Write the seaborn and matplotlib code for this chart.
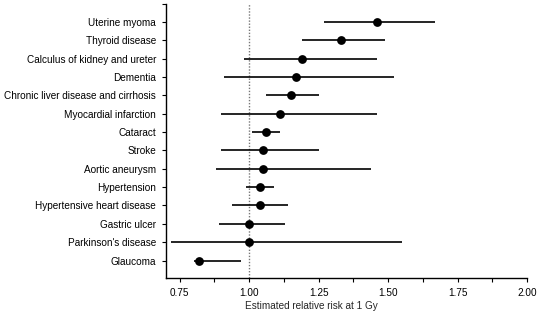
import matplotlib
matplotlib.use("Agg")
import matplotlib.pyplot as plt
import seaborn as sns
import pandas as pd
from matplotlib.ticker import MultipleLocator

conditions = ["Uterine myoma", "Thyroid disease", "Calculus of kidney and ureter", "Dementia",
              "Chronic liver disease and cirrhosis", "Myocardial infarction", "Cataract", "Stroke",
              "Aortic aneurysm", "Hypertension", "Hypertensive heart disease", "Gastric ulcer",
              "Parkinson's disease", "Glaucoma"]
rr = [1.46, 1.33, 1.19, 1.17, 1.15, 1.11, 1.06, 1.05, 1.05, 1.04, 1.04, 1.00, 1.00, 0.82]
lo = [1.27, 1.19, 0.98, 0.91, 1.06, 0.90, 1.01, 0.90, 0.88, 0.99, 0.94, 0.89, 0.72, 0.80]
hi = [1.67, 1.49, 1.46, 1.52, 1.25, 1.46, 1.11, 1.25, 1.44, 1.09, 1.14, 1.13, 1.55, 0.97]
xticks = [0.75, 1.00, 1.25, 1.50, 1.75, 2.00]

df = pd.DataFrame({"cond": conditions, "rr": rr, "lo": lo, "hi": hi})
df["pos"] = range(len(df))

sns.set_style("ticks")
plt.rcParams["font.family"] = ["Liberation Sans", "DejaVu Sans"]

fig = plt.figure(figsize=(5.4, 3.24), dpi=100)
ax = fig.add_axes([0.307, 0.142, 0.669, 0.847])

ax.axvline(1.0, color="#777777", lw=1.0, ls=(0, (1, 1.2)), zorder=1)
ax.hlines(df["pos"], df["lo"], df["hi"], color="black", lw=1.2, zorder=2)
sns.scatterplot(data=df, x="rr", y="pos", ax=ax, color="black", s=40,
                edgecolor="black", linewidth=0, zorder=3, legend=False)

ax.set_xlim(0.7, 2.0)
ax.set_ylim(13.95, -1)
ax.set_xticks(xticks)
ax.set_xticklabels([f"{t:.2f}" for t in xticks])
ax.xaxis.set_minor_locator(MultipleLocator(0.125))
ax.set_yticks([-1] + list(df["pos"]))
ax.set_yticklabels([""] + conditions)
ax.tick_params(axis="both", which="both", direction="out", length=3, width=0.8,
               labelsize=7.2, color="black", labelcolor="black", pad=4)
ax.tick_params(axis="x", which="minor", length=3)
ax.set_xlabel("Estimated relative risk at 1 Gy", fontsize=7.2)
ax.set_ylabel("")
ax.xaxis.set_label_coords(0.403, -0.085)
for s in ["top", "right"]:
    ax.spines[s].set_visible(False)
for s in ["left", "bottom"]:
    ax.spines[s].set_color("black")
    ax.spines[s].set_linewidth(1.0)

fig.savefig("out.png", dpi=100)
